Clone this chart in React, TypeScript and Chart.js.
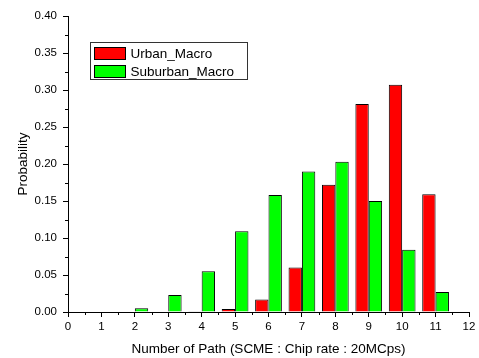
import { useEffect, useRef } from 'react';
import { Chart, registerables } from 'chart.js';

Chart.register(...registerables);

// Number of resolvable paths and their probabilities per environment
const pathCounts = [2, 3, 4, 5, 6, 7, 8, 9, 10, 11];
const urbanMacro = [0, 0, 0.001, 0.004, 0.017, 0.06, 0.172, 0.281, 0.307, 0.159];
const suburbanMacro = [0.005, 0.023, 0.055, 0.109, 0.158, 0.19, 0.203, 0.15, 0.084, 0.027];
const seriesNames = ['Urban_Macro', 'Suburban_Macro'];
const seriesColors = ['#ff0000', '#00ff00'];

const xTitle = 'Number of Path (SCME : Chip rate : 20MCps)';
const yTitle = 'Probability';

const FONT = '"Liberation Sans", Arial, sans-serif';

// Half-step minor ticks on both axes, plus the boxed legend inside the plot
const decorPlugin = {
  id: 'decor',
  afterDraw(chart: any) {
    const { ctx, chartArea, scales } = chart;
    const x = scales.x;
    const y = scales.y;
    ctx.save();
    ctx.strokeStyle = '#000';
    ctx.lineWidth = 1;
    ctx.beginPath();
    for (let v = 0.5; v < 12; v += 1) {
      const px = Math.round(x.getPixelForValue(v)) + 0.5;
      ctx.moveTo(px, chartArea.bottom);
      ctx.lineTo(px, chartArea.bottom + 3);
    }
    for (let v = 0.025; v < 0.4; v += 0.05) {
      const py = Math.round(y.getPixelForValue(v)) + 0.5;
      ctx.moveTo(chartArea.left - 3, py);
      ctx.lineTo(chartArea.left, py);
    }
    ctx.stroke();

    // legend
    const bx = 90.5, by = 42.5, bw = 157, bh = 37;
    ctx.strokeStyle = '#333';
    ctx.strokeRect(bx, by, bw, bh);
    ctx.font = `13.5px ${FONT}`;
    ctx.textBaseline = 'middle';
    ctx.textAlign = 'left';
    seriesNames.forEach((name, i) => {
      const sy = 47.5 + i * 18;
      ctx.fillStyle = seriesColors[i];
      ctx.fillRect(94.5, sy, 31, 12);
      ctx.strokeStyle = '#000';
      ctx.strokeRect(94.5, sy, 31, 12);
      ctx.fillStyle = '#000';
      ctx.fillText(name, 130.5, sy + 6.5);
    });
    ctx.restore();
  },
};

export default function App() {
  const ref = useRef<HTMLCanvasElement>(null);

  useEffect(() => {
    if (!ref.current) return;
    const chart = new Chart(ref.current, {
      type: 'bar',
      data: {
        datasets: [
          {
            label: seriesNames[0],
            data: pathCounts.map((n, i) => ({ x: n, y: urbanMacro[i] })),
            backgroundColor: seriesColors[0],
            borderColor: '#000',
            borderWidth: 1,
          },
          {
            label: seriesNames[1],
            data: pathCounts.map((n, i) => ({ x: n, y: suburbanMacro[i] })),
            backgroundColor: seriesColors[1],
            borderColor: '#000',
            borderWidth: 1,
          },
        ],
      },
      options: {
        responsive: false,
        animation: false,
        devicePixelRatio: 1,
        categoryPercentage: 0.8,
        barPercentage: 1,
        layout: { padding: { left: 0, right: 10, top: 16, bottom: 0 } },
        plugins: {
          legend: { display: false },
          tooltip: { enabled: false },
        },
        scales: {
          x: {
            type: 'linear',
            min: 0,
            max: 12,
            offset: false,
            afterFit: (s: any) => {
              s.height = 46;
            },
            ticks: {
              stepSize: 1,
              color: '#000',
              padding: 3,
              font: { family: FONT, size: 11.5 },
            },
            grid: {
              drawOnChartArea: false,
              offset: false,
              tickLength: 5,
              color: '#000',
            },
            border: { color: '#000', width: 1 },
            title: {
              display: true,
              text: xTitle,
              color: '#000',
              font: { family: FONT, size: 13.5 },
              padding: { top: 0, bottom: 1 },
            },
          },
          y: {
            min: 0,
            max: 0.4,
            afterFit: (s: any) => {
              s.width = 68;
            },
            ticks: {
              stepSize: 0.05,
              color: '#000',
              padding: 6,
              font: { family: FONT, size: 11.5 },
              callback: (v: any) => Number(v).toFixed(2),
            },
            grid: {
              drawOnChartArea: false,
              tickLength: 5,
              color: '#000',
            },
            border: { color: '#000', width: 1 },
            title: {
              display: true,
              text: yTitle,
              color: '#000',
              font: { family: FONT, size: 13.5 },
              padding: { top: 15, bottom: 0 },
            },
          },
        },
      },
      plugins: [decorPlugin],
    });
    return () => chart.destroy();
  }, []);

  return (
    <div style={{ position: 'absolute', left: 0, top: 0, width: 479, height: 358, background: '#fff' }}>
      <canvas ref={ref} width={479} height={358} style={{ display: 'block' }} />
    </div>
  );
}
